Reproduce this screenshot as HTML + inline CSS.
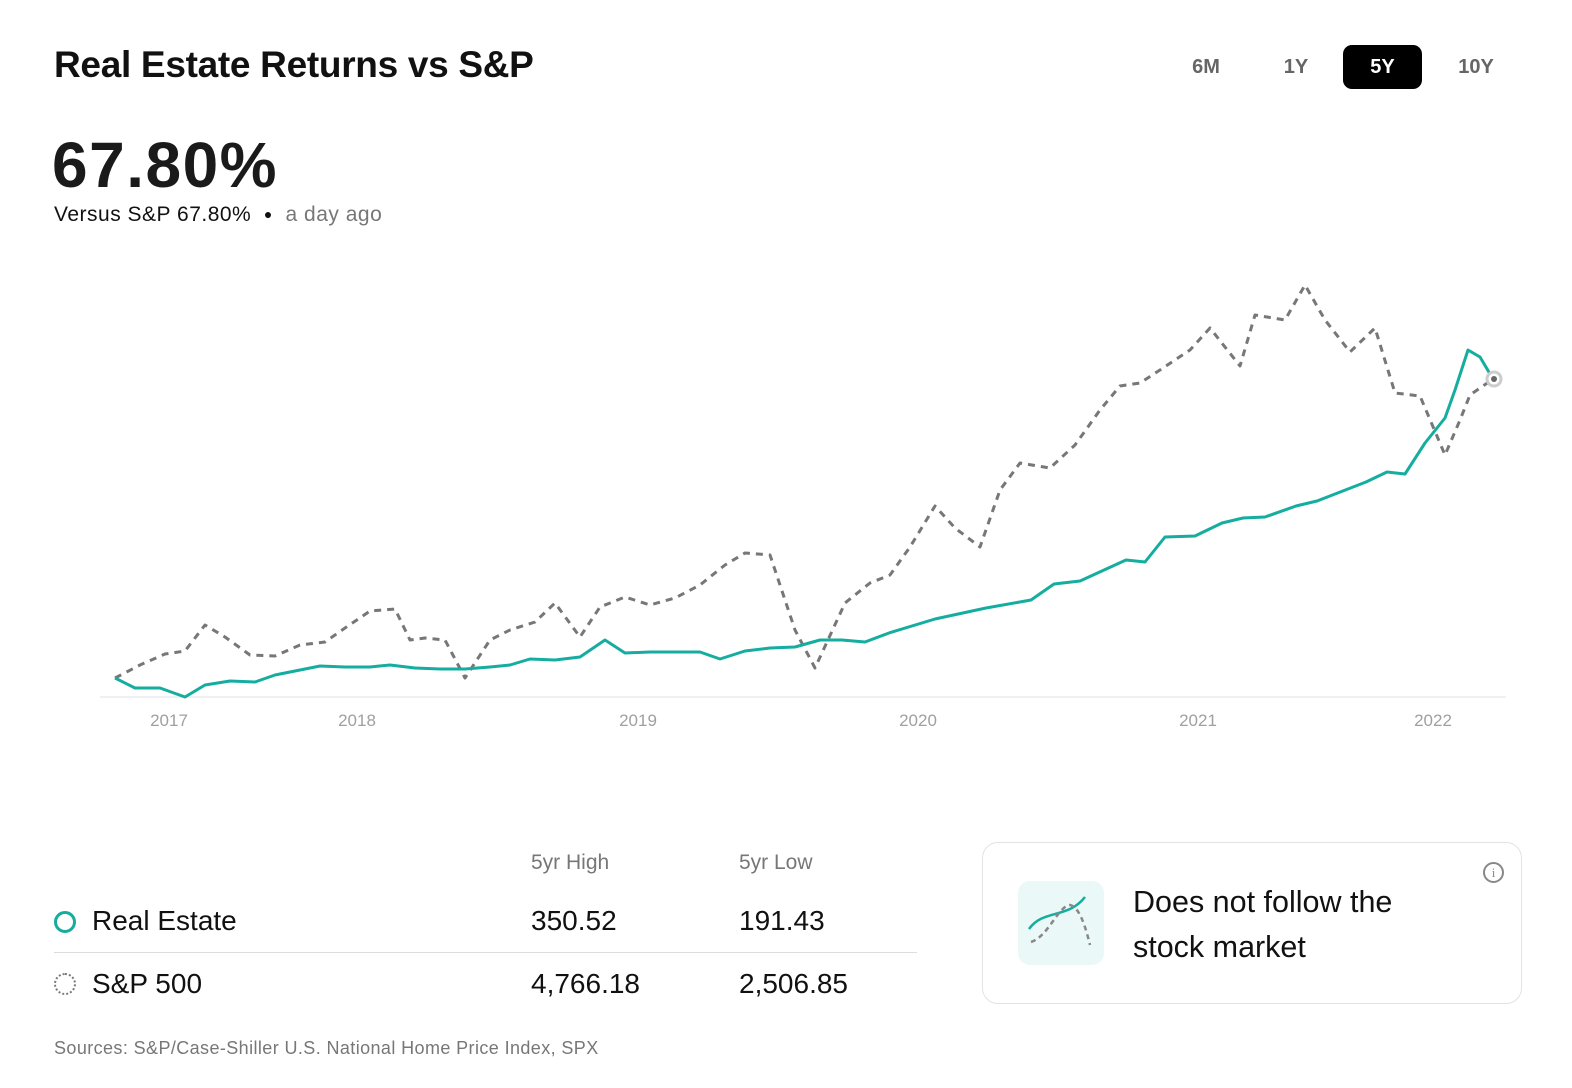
<!DOCTYPE html>
<html><head><meta charset="utf-8"><style>
body{margin:0;width:1572px;height:1088px;background:#fff;font-family:"Liberation Sans",sans-serif;position:relative;overflow:hidden;color:#111}
.a{position:absolute;white-space:nowrap}
.btn{position:absolute;top:45px;height:44px;line-height:44px;font-size:20px;font-weight:bold;color:#666;text-align:center;width:80px}
</style></head><body>
<div class="a" style="left:54px;top:44px;font-size:37px;font-weight:bold;letter-spacing:-0.3px">Real Estate Returns vs S&amp;P</div>
<div class="btn" style="left:1166px">6M</div>
<div class="btn" style="left:1256px">1Y</div>
<div class="btn" style="left:1343px;width:79px;background:#000;color:#fff;border-radius:9px">5Y</div>
<div class="btn" style="left:1436px">10Y</div>
<div class="a" style="left:52px;top:128px;font-size:64px;font-weight:900;letter-spacing:1.5px;color:#1a1a1a">67.80%</div>
<div class="a" style="left:54px;top:203px;font-size:21px;letter-spacing:0.5px;color:#111">Versus S&amp;P 67.80% &nbsp;<span style="font-size:14px;vertical-align:2px">●</span>&nbsp; <span style="color:#777">a day ago</span></div>
<svg class="a" style="left:0;top:0" width="1572" height="760">
<line x1="100" y1="697" x2="1506" y2="697" stroke="#eef0f3" stroke-width="2"/>
<g font-size="17" fill="#a0a0a0" text-anchor="middle" font-family="Liberation Sans,sans-serif">
<text x="169" y="726">2017</text><text x="357" y="726">2018</text><text x="638" y="726">2019</text><text x="918" y="726">2020</text><text x="1198" y="726">2021</text><text x="1433" y="726">2022</text></g>
<polyline fill="none" stroke="#777" stroke-width="3" stroke-dasharray="7,6" stroke-linejoin="round" points="115,678 140,665 165,654 185,651 205,625 225,637 250,655 275,656 300,645 325,642 345,628 370,611 395,609 410,640 425,638 445,640 465,678 490,640 510,630 535,622 555,603 580,637 600,607 625,597 650,605 675,598 700,585 725,565 745,553 770,555 795,630 815,668 845,603 870,583 890,575 910,547 935,506 955,528 980,547 1000,490 1020,463 1050,468 1075,445 1100,410 1120,386 1140,383 1160,370 1190,350 1210,328 1240,366 1255,315 1285,320 1305,285 1325,320 1350,352 1375,328 1395,393 1420,396 1445,455 1460,420 1470,395 1493,379"/>
<polyline fill="none" stroke="#14ad9f" stroke-width="3" stroke-linejoin="round" points="115,678 135,688 160,688 185,697 205,685 230,681 255,682 275,675 300,670 320,666 345,667 370,667 390,665 415,668 440,669 465,669 490,667 510,665 530,659 555,660 580,657 605,640 625,653 650,652 675,652 700,652 720,659 745,651 770,648 795,647 820,640 842,640 865,642 889,633 935,619 986,608 1031,600 1054,584 1080,581 1126,560 1145,562 1165,537 1195,536 1222,523 1243,518 1265,517 1296,506 1317,501 1366,482 1387,472 1405,474 1425,443 1445,418 1455,390 1468,350 1480,357 1493,379"/>
<circle cx="1494" cy="379" r="7" fill="#fff" stroke="#ccc" stroke-width="3"/><circle cx="1494" cy="379" r="3" fill="#666"/>
</svg>
<div class="a" style="left:531px;top:851px;font-size:21px;color:#777">5yr High</div>
<div class="a" style="left:739px;top:851px;font-size:21px;color:#777">5yr Low</div>
<div class="a" style="left:54px;top:911px;width:16px;height:16px;border:3px solid #14ad9f;border-radius:50%"></div>
<div class="a" style="left:92px;top:905px;font-size:28px">Real Estate</div>
<div class="a" style="left:531px;top:905px;font-size:28px">350.52</div>
<div class="a" style="left:739px;top:905px;font-size:28px">191.43</div>
<div class="a" style="left:54px;top:952px;width:863px;height:1px;background:#ddd"></div>
<div class="a" style="left:54px;top:973px;width:18px;height:18px;border:2px dotted #777;border-radius:50%"></div>
<div class="a" style="left:92px;top:968px;font-size:28px">S&amp;P 500</div>
<div class="a" style="left:531px;top:968px;font-size:28px">4,766.18</div>
<div class="a" style="left:739px;top:968px;font-size:28px">2,506.85</div>
<div class="a" style="left:982px;top:842px;width:538px;height:160px;border:1px solid #e3e3e3;border-radius:16px"></div>
<div class="a" style="left:1018px;top:881px;width:86px;height:84px;background:#eaf8f7;border-radius:12px"></div>
<svg class="a" style="left:1018px;top:881px" width="86" height="84"><path d="M11,48 C25,28 50,38 67,16" fill="none" stroke="#14ad9f" stroke-width="2.5"/><path d="M13,61 C30,56 40,25 52,24 C62,26 68,48 72,64" fill="none" stroke="#888" stroke-width="2.5" stroke-dasharray="5,4"/></svg>
<div class="a" style="left:1133px;top:880px;font-size:30.5px;line-height:45px">Does not follow the<br>stock market</div>
<div class="a" style="left:1483px;top:862px;width:17px;height:17px;border:2px solid #888;border-radius:50%;font-size:13px;color:#888;text-align:center;line-height:17px;font-family:'Liberation Serif',serif">i</div>
<div class="a" style="left:54px;top:1038px;font-size:18px;letter-spacing:0.4px;color:#777">Sources: S&amp;P/Case-Shiller U.S. National Home Price Index, SPX</div>
</body></html>
